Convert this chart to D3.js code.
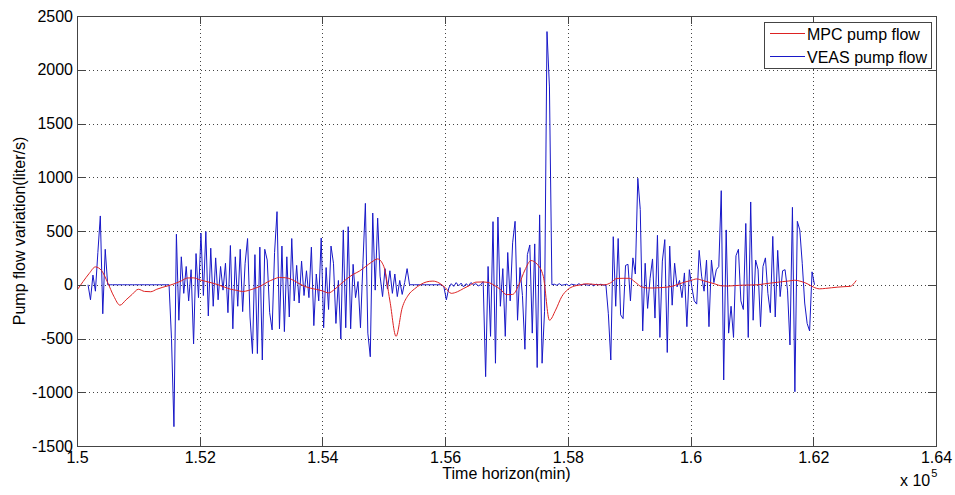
<!DOCTYPE html>
<html>
<head>
<meta charset="utf-8">
<script src="https://cdn.jsdelivr.net/npm/d3@7"></script>
<style>
  body { margin: 0; background: #fff; }
  text { font-family: "Liberation Sans", Arial, Helvetica, sans-serif; fill: #000; }
</style>
</head>
<body>
<svg id="chart" width="955" height="495"></svg>
<script>
// Time axis (minutes) and flow axis (liter/s)
const xTicks = [150000, 152000, 154000, 156000, 158000, 160000, 162000, 164000];
const xTickLabels = ["1.5", "1.52", "1.54", "1.56", "1.58", "1.6", "1.62", "1.64"];
const yTicks = [-1500, -1000, -500, 0, 500, 1000, 1500, 2000, 2500];
const yTickLabels = ["-1500", "-1000", "-500", "0", "500", "1000", "1500", "2000", "2500"];

const seriesNames = ["MPC pump flow", "VEAS pump flow"];

// MPC pump flow, sampled every 100 min from t = 150000 min
const mpcStart = 150000;
const mpcStep = 100;
const mpcFlow = [
  -50, 30, 106, 166, 132, 20, -107, -190, -140, -89,
  -42, -62, -65, -42, -23, -7, 12, 36, 63, 64,
  46, 31, 17, 0, -21, -41, -52, -63, -52, -33,
  -10, 24, 50, 68, 65, 49, 17, -12, -31, -43,
  -57, -76, -42, 7, 56, 96, 126, 168, 210, 240,
  171, -151, -480, -215, -96, -39, 2, 27, 34, 17,
  -26, -80, -65, -35, -6, 24, 26, 21, -5, -43,
  -92, -90, -3, 137, 225, 191, 78, -330, -236, -111,
  -44, -13, -2, 9, 5, 0, 0, 19, 59, 60,
  60, 23, -19, -30, -30, -27, -23, -14, 5, 24,
  39, 54, 39, 23, 7, -10, -12, -9, -5, -3,
  -2, 0, 8, 15, 22, 29, 35, 42, 31, 10,
  -21, -38, -34, -28, -22, -18, -15, 40
];

// VEAS pump flow, sampled every 40 min from t = 150180 min
const veasStart = 150180;
const veasStep = 40;
const veasFlow = [
  0, -140, 90, -60, 300, 640, -270, 330, 0,
  0, 0, 0, 0, 0, 0, 0, 0, 0, 0, 0, 0, 0, 0, 0, 0, 0, 0, 0, 0, 0, 0, 0, 0,
  0, -500, -1320, 470, -330, 260, -80, 170, -150, 140,
  -550, 290, -120, 480, -100, 495, -290, 340, -200, 250,
  -140, 170, -50, 200, -260, 365, -410, 260, -200, 330,
  -250, 200, 430, -300, -640, 280, -640, 350, -700, 330,
  230, -260, -420, 300, 680, -410, 360, -436, 260, -300,
  430, -150, 180, -170, 220, -100, 130, -120, 350, -380,
  100, -150, 435, -400, 160, -230, 360, 200, -360, 40,
  -505, 510, -400, 540, -410, 190, -120, 30, -400, 200,
  757, -450, -670, 667, -50, 620, 80, -110, 150, -40,
  130, -80, 100, -110, 40, -90, 20, 150, 0, 0,
  0, 0, 0, 0, 0, 0, 0, 0, 0, 0, 0, 0,
  -20, -140, -30,
  10, -15, 20, -10, 15, -20, 10, -10, 20, 0,
  10, -10, 0, 30, -855, 170, -480, 587, -730, 630,
  -200, 150, -480, 300, -150, 390, 590, -330, 160, -100,
  -600, 280, 370, -450, 380, -770, 650, -730, -250, 2355,
  1840, 0,
  5, -5, 10, -5, 0, 5, -10, 5, 0, -5, 10, -5, 5, 0, -5, 5, -10, 5, 0, 5, -5, 0,
  -270, -700, 447, -200, 430, -280, -315, 180, 190, -150,
  250, 100, 990, 700, -430, 200, -220, 60, 240, -310,
  460, -490, 220, 420, -630, 360, -190, 200, -20, 40,
  -120, 110, -390, 140, -20, -150, -180, 320, 80, -60,
  230, -390, 230, 20, 140, 170, 875, -886, 510, -450,
  -200, -490, 270, 330, -150, -230, 570, -490, 770, -330,
  230, 140, -390, 170, 250, -80, -260, 450, -300, 320,
  -110, 130, 140, -50, -560, 720, -995, 590, 510, 200,
  -170, -360, -430, 120, 0
];

const W = 955, H = 495;
const margin = { top: 16, right: 19, bottom: 49, left: 77 };
const svg = d3.select("#chart");

const x = d3.scaleLinear().domain([150000, 164000]).range([margin.left, W - margin.right]);
const y = d3.scaleLinear().domain([-1500, 2500]).range([H - margin.bottom, margin.top]);

const x0 = x.range()[0], x1 = x.range()[1];
const y0 = y.range()[0], y1 = y.range()[1];

svg.append("rect").attr("width", W).attr("height", H).attr("fill", "#fff");

// Dotted grid
const grid = svg.append("g").attr("stroke", "#444").attr("stroke-width", 1)
  .attr("stroke-dasharray", "1,3").attr("shape-rendering", "crispEdges");
grid.selectAll(".gx").data(xTicks.slice(1, -1)).join("line")
  .attr("x1", d => Math.round(x(d)) + 0.5).attr("x2", d => Math.round(x(d)) + 0.5)
  .attr("y1", y0).attr("y2", y1);
grid.selectAll(".gy").data(yTicks.slice(1, -1)).join("line")
  .attr("y1", d => Math.round(y(d)) + 0.5).attr("y2", d => Math.round(y(d)) + 0.5)
  .attr("x1", x0).attr("x2", x1);

// Data lines
svg.append("defs").append("clipPath").attr("id", "plotClip")
  .append("rect").attr("x", x0).attr("y", y1).attr("width", x1 - x0).attr("height", y0 - y1);

const veasPts = veasFlow.map((v, i) => [veasStart + i * veasStep, v]);
const mpcPts = mpcFlow.map((v, i) => [mpcStart + i * mpcStep, v]);

const lineLinear = d3.line().x(d => x(d[0])).y(d => y(d[1]));
const lineSmooth = d3.line().x(d => x(d[0])).y(d => y(d[1])).curve(d3.curveMonotoneX);

const colors = ["#dd2222", "#1818c8"];

const plot = svg.append("g").attr("clip-path", "url(#plotClip)");
plot.append("path").datum(veasPts).attr("d", lineLinear)
  .attr("fill", "none").attr("stroke", colors[1]).attr("stroke-width", 1);
plot.append("path").datum(mpcPts).attr("d", lineSmooth)
  .attr("fill", "none").attr("stroke", colors[0]).attr("stroke-width", 1);

// Axes: inward ticks on all four sides
const tickLen = 8;
const axisBottom = d3.axisBottom(x).tickValues(xTicks).tickSizeInner(-tickLen).tickSizeOuter(0)
  .tickPadding(6).tickFormat((d, i) => xTickLabels[i]);
const axisTop = d3.axisTop(x).tickValues(xTicks).tickSizeInner(-tickLen).tickSizeOuter(0).tickFormat("");
const axisLeft = d3.axisLeft(y).tickValues(yTicks).tickSizeInner(-tickLen).tickSizeOuter(0)
  .tickPadding(4).tickFormat((d, i) => yTickLabels[i]);
const axisRight = d3.axisRight(y).tickValues(yTicks).tickSizeInner(-tickLen).tickSizeOuter(0).tickFormat("");

function styleAxis(g) {
  g.select(".domain").remove();
  g.selectAll("line").attr("stroke", "#444").attr("shape-rendering", "crispEdges");
  g.selectAll("text").attr("font-size", 16).attr("fill", "#000")
    .attr("font-family", "'Liberation Sans', Arial, sans-serif");
}
svg.append("g").attr("transform", `translate(0,${y0})`).call(axisBottom).call(styleAxis);
svg.append("g").attr("transform", `translate(0,${y1})`).call(axisTop).call(styleAxis);
svg.append("g").attr("transform", `translate(${x0},0)`).call(axisLeft).call(styleAxis);
svg.append("g").attr("transform", `translate(${x1},0)`).call(axisRight).call(styleAxis);

// Frame
svg.append("rect").attr("x", x0 + 0.5).attr("y", y1 + 0.5)
  .attr("width", x1 - x0).attr("height", y0 - y1)
  .attr("fill", "none").attr("stroke", "#444").attr("stroke-width", 1)
  .attr("shape-rendering", "crispEdges");

// Axis titles
svg.append("text").attr("x", (x0 + x1) / 2).attr("y", 479)
  .attr("text-anchor", "middle").attr("font-size", 16).text("Time horizon(min)");
svg.append("text").attr("transform", `translate(25,${(y0 + y1) / 2}) rotate(-90)`)
  .attr("text-anchor", "middle").attr("font-size", 16).text("Pump flow variation(liter/s)");

// Exponent of the time axis
const expo = svg.append("text").attr("x", 900).attr("y", 486).attr("font-size", 16);
expo.append("tspan").text("x 10");
expo.append("tspan").attr("font-size", 11).attr("dy", -9).attr("dx", 1).text("5");

// Legend
const lg = svg.append("g");
lg.append("rect").attr("x", 764.5).attr("y", 22.5).attr("width", 167).attr("height", 46)
  .attr("fill", "#fff").attr("stroke", "#444").attr("shape-rendering", "crispEdges");
seriesNames.forEach((name, i) => {
  const cy = 33.5 + i * 23;
  lg.append("line").attr("x1", 770).attr("x2", 805).attr("y1", cy).attr("y2", cy)
    .attr("stroke", colors[i]).attr("stroke-width", 1);
  lg.append("text").attr("x", 807).attr("y", cy + 6).attr("font-size", 16).text(name);
});
</script>
</body>
</html>
